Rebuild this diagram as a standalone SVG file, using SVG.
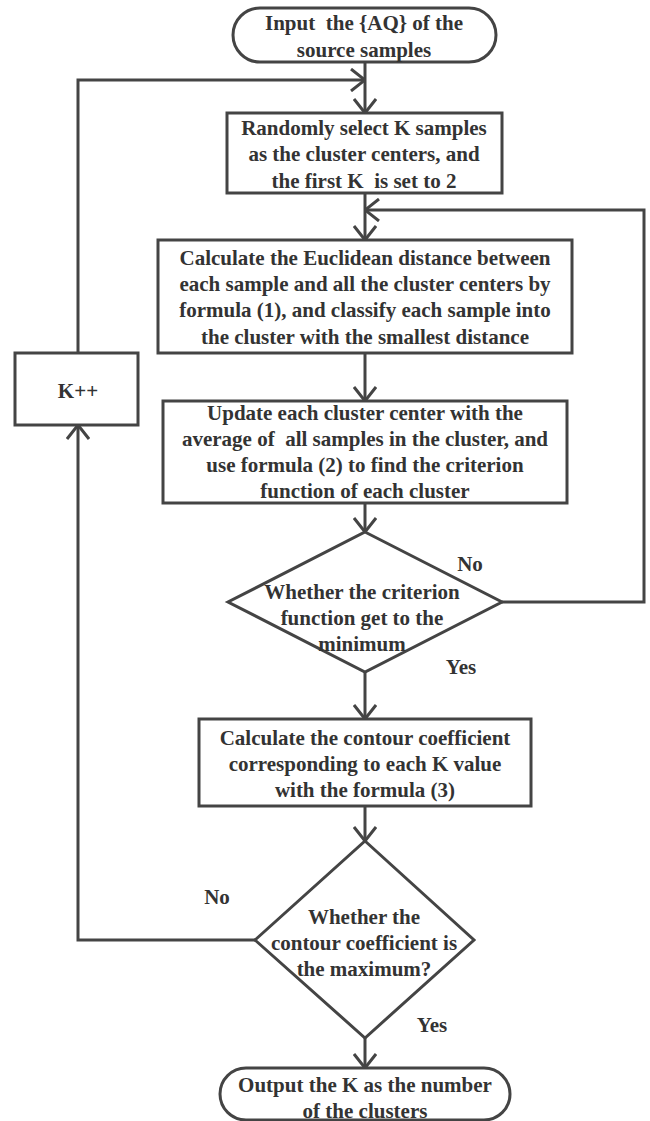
<svg xmlns="http://www.w3.org/2000/svg" width="650" height="1121" viewBox="0 0 650 1121">
<style>
.shape{fill:#fff;stroke:#444;stroke-width:3}
.line{fill:none;stroke:#444;stroke-width:3}
text{font-family:'Liberation Serif','Times New Roman',serif;font-weight:bold;font-size:21px;fill:#333;text-anchor:middle;white-space:pre}
</style>
<defs>
<marker id="arr" viewBox="0 0 16 24" refX="15" refY="12" markerWidth="16" markerHeight="24" markerUnits="userSpaceOnUse" orient="auto">
<path d="M1,1 L15,12 L1,23" fill="none" stroke="#444" stroke-width="3"/>
</marker>
</defs>
<rect width="650" height="1121" fill="#fff"/>
<g id="connectors">
<path class="line" d="M365,62 V113" marker-end="url(#arr)"/>
<path class="line" d="M365,193 V240" marker-end="url(#arr)"/>
<path class="line" d="M365,353 V401" marker-end="url(#arr)"/>
<path class="line" d="M365,503 V532" marker-end="url(#arr)"/>
<path class="line" d="M365,672 V719" marker-end="url(#arr)"/>
<path class="line" d="M365,806 V841" marker-end="url(#arr)"/>
<path class="line" d="M365,1038 V1068" marker-end="url(#arr)"/>
<path class="line" d="M502,602 H644 V210 H365" marker-end="url(#arr)"/>
<path class="line" d="M255,940 H78 V425" marker-end="url(#arr)"/>
<path class="line" d="M78,353 V80 H365" marker-end="url(#arr)"/>
<text x="470" y="571">No</text>
<text x="461" y="674">Yes</text>
<text x="217" y="904">No</text>
<text x="432" y="1032">Yes</text>
</g>
<g id="start">
<rect class="shape" x="233" y="8" width="263" height="54" rx="27"/>
<text x="364" y="30">Input  the {AQ} of the</text>
<text x="364" y="57">source samples</text>
</g>
<g id="select">
<rect class="shape" x="227" y="113" width="275" height="80"/>
<text x="364" y="135">Randomly select K samples</text>
<text x="364" y="161">as the cluster centers, and</text>
<text x="364" y="188">the first K  is set to 2</text>
</g>
<g id="distance">
<rect class="shape" x="158" y="240" width="414" height="113"/>
<text x="365" y="265">Calculate the Euclidean distance between</text>
<text x="365" y="291">each sample and all the cluster centers by</text>
<text x="365" y="317">formula (1), and classify each sample into</text>
<text x="365" y="344">the cluster with the smallest distance</text>
</g>
<g id="update">
<rect class="shape" x="163" y="401" width="404" height="102"/>
<text x="365" y="420">Update each cluster center with the</text>
<text x="365" y="446">average of  all samples in the cluster, and</text>
<text x="365" y="472">use formula (2) to find the criterion</text>
<text x="365" y="498">function of each cluster</text>
</g>
<g id="decision1">
<polygon class="shape" points="365,532 502,602 365,672 228,602"/>
<text x="362" y="599">Whether the criterion</text>
<text x="362" y="625">function get to the</text>
<text x="362" y="651">minimum</text>
</g>
<g id="kpp">
<rect class="shape" x="15" y="353" width="123" height="72"/>
<text x="78" y="398">K++</text>
</g>
<g id="contour">
<rect class="shape" x="199" y="719" width="332" height="87"/>
<text x="365" y="745">Calculate the contour coefficient</text>
<text x="365" y="771">corresponding to each K value</text>
<text x="365" y="797">with the formula (3)</text>
</g>
<g id="decision2">
<polygon class="shape" points="365,841 474,940 365,1038 255,940"/>
<text x="364" y="924">Whether the</text>
<text x="364" y="950">contour coefficient is</text>
<text x="364" y="976">the maximum?</text>
</g>
<g id="output">
<rect class="shape" x="220" y="1068" width="290" height="52" rx="26"/>
<text x="365" y="1092">Output the K as the number</text>
<text x="365" y="1118">of the clusters</text>
</g>
</svg>
